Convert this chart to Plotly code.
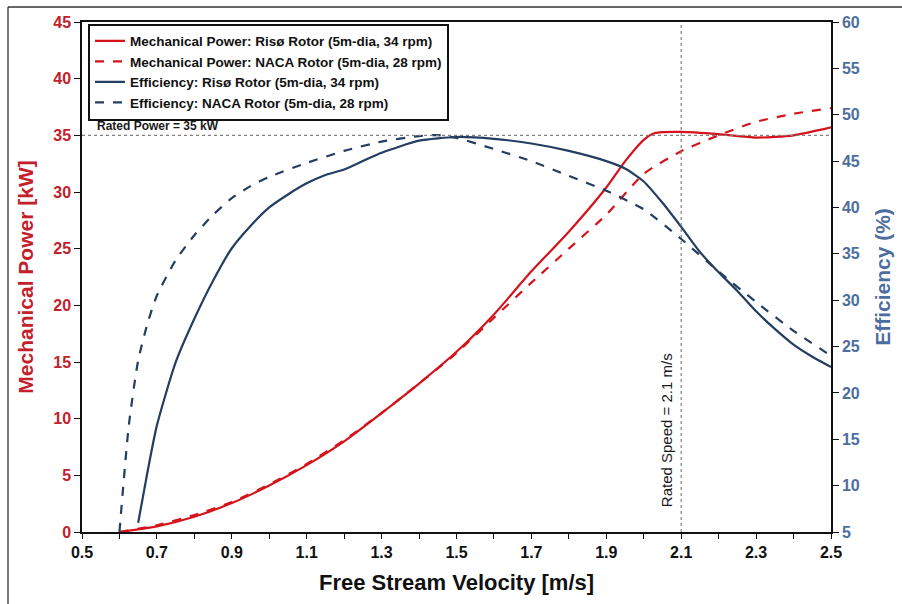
import plotly.graph_objects as go

# ---------------- data ----------------
v_riso_p = [0.60, 0.70, 0.80, 0.90, 1.00, 1.10, 1.20, 1.30, 1.40, 1.50, 1.60, 1.70,
            1.80, 1.90, 1.95, 2.00, 2.03, 2.10, 2.20, 2.30, 2.40, 2.50]
p_riso = [0.0, 0.5, 1.35, 2.55, 4.1, 5.9, 8.0, 10.5, 13.1, 15.9, 19.2, 23.0,
          26.5, 30.4, 32.7, 34.6, 35.2, 35.3, 35.1, 34.8, 35.0, 35.7]

v_naca_p = [0.60, 0.70, 0.80, 0.90, 1.00, 1.10, 1.20, 1.30, 1.40, 1.50, 1.60, 1.70,
            1.80, 1.90, 2.00, 2.10, 2.20, 2.30, 2.40, 2.50]
p_naca = [0.0, 0.6, 1.5, 2.65, 4.2, 6.0, 8.1, 10.5, 13.1, 15.8, 18.9, 22.0,
          25.0, 28.0, 31.6, 33.6, 35.0, 36.2, 36.9, 37.4]

v_riso_e = [0.65, 0.675, 0.70, 0.75, 0.80, 0.85, 0.90, 0.95, 1.00, 1.05, 1.10, 1.15,
            1.20, 1.25, 1.30, 1.40, 1.50, 1.60, 1.70, 1.80, 1.90, 1.95, 2.00, 2.05,
            2.10, 2.15, 2.20, 2.25, 2.30, 2.35, 2.40, 2.45, 2.50]
e_riso = [6.0, 11.5, 16.5, 23.3, 28.0, 32.1, 35.6, 38.0, 40.0, 41.4, 42.6, 43.5,
          44.1, 45.0, 45.9, 47.2, 47.6, 47.4, 46.9, 46.1, 45.0, 44.2, 42.8, 40.5,
          37.9, 35.2, 33.0, 31.0, 28.8, 26.9, 25.2, 23.9, 22.8]

v_naca_e = [0.60, 0.625, 0.65, 0.675, 0.70, 0.75, 0.80, 0.85, 0.90, 0.95, 1.00, 1.10,
            1.20, 1.30, 1.40, 1.45, 1.50, 1.60, 1.70, 1.80, 1.90, 2.00, 2.10, 2.20,
            2.30, 2.40, 2.50]
e_naca = [5.0, 16.5, 23.5, 27.5, 30.5, 34.3, 37.0, 39.2, 41.0, 42.3, 43.3, 44.8,
          46.1, 47.1, 47.7, 47.8, 47.5, 46.3, 45.0, 43.4, 41.8, 39.8, 36.6, 33.1,
          29.8, 26.7, 24.0]

names = ["Mechanical Power: Risø Rotor (5m-dia, 34 rpm)",
         "Mechanical Power: NACA Rotor (5m-dia, 28 rpm)",
         "Efficiency: Risø Rotor (5m-dia, 34 rpm)",
         "Efficiency: NACA Rotor (5m-dia, 28 rpm)"]

x_ticks = [0.5, 0.7, 0.9, 1.1, 1.3, 1.5, 1.7, 1.9, 2.1, 2.3, 2.5]
rated_power = 35
rated_speed = 2.1

# ---------------- styling ----------------
RED = "#D4131B"
BLUE = "#233E60"
RED_TXT = "#C4202B"
BLUE_TXT = "#4C6E9E"
FONT = "Liberation Sans, Arial, sans-serif"

fig = go.Figure()
fig.add_trace(go.Scatter(x=v_riso_p, y=p_riso, name=names[0], mode="lines",
                         line=dict(color=RED, width=2.2, shape="spline", smoothing=0.6)))
fig.add_trace(go.Scatter(x=v_naca_p, y=p_naca, name=names[1], mode="lines",
                         line=dict(color=RED, width=2.2, dash="dash", shape="spline", smoothing=0.6)))
fig.add_trace(go.Scatter(x=v_riso_e, y=e_riso, name=names[2], mode="lines", yaxis="y2",
                         line=dict(color=BLUE, width=2.2, shape="spline", smoothing=0.6)))
fig.add_trace(go.Scatter(x=v_naca_e, y=e_naca, name=names[3], mode="lines", yaxis="y2",
                         line=dict(color=BLUE, width=2.2, dash="dash", shape="spline", smoothing=0.6)))

# reference lines
fig.add_shape(type="line", xref="x", yref="y", x0=0.5, x1=2.5, y0=rated_power, y1=rated_power,
              line=dict(color="#808080", width=1.2, dash="dot"))
fig.add_shape(type="line", xref="x", yref="y", x0=rated_speed, x1=rated_speed, y0=0, y1=45,
              line=dict(color="#808080", width=1.2, dash="dot"))

# outer frame (left and top)
fig.add_shape(type="line", xref="paper", yref="paper", x0=-0.0988, x1=1.1, y0=1.0294, y1=1.0294,
              line=dict(color="#333333", width=1.3))
fig.add_shape(type="line", xref="paper", yref="paper", x0=-0.0988, x1=-0.0988, y0=1.0294, y1=-0.2,
              line=dict(color="#333333", width=1.3))

fig.add_annotation(x=0.535, y=rated_power, xref="x", yref="y", text="Rated Power = 35 kW",
                   showarrow=False, xanchor="left", yanchor="bottom", yshift=0,
                   font=dict(family=FONT, size=12, color="#1a1a1a", weight="bold"))
fig.add_annotation(x=rated_speed, y=9.0, xref="x", yref="y", text="Rated Speed = 2.1 m/s",
                   showarrow=False, textangle=-90, xanchor="center", yanchor="middle", xshift=-15,
                   font=dict(family=FONT, size=15, color="#1a1a1a"))

fig.update_layout(
    width=902, height=604,
    margin=dict(l=82, r=71, t=22, b=72),
    paper_bgcolor="white", plot_bgcolor="white",
    font=dict(family=FONT),
    showlegend=True,
    legend=dict(x=0.008, y=0.997, xanchor="left", yanchor="top",
                bgcolor="white", bordercolor="#111111", borderwidth=2,
                font=dict(family=FONT, size=13.5, color="#111111", weight="bold"),
                tracegroupgap=0, itemwidth=30),
    xaxis=dict(range=[0.5, 2.5], tickvals=x_ticks, ticktext=[f"{t:.1f}" for t in x_ticks],
               showgrid=False, zeroline=False, showline=True, linecolor="#111111", linewidth=1.5,
               mirror=True, ticks="outside", ticklen=5, tickcolor="#111111",
               minor=dict(ticks="outside", dtick=0.1, tick0=0.5, ticklen=5, tickcolor="#111111"),
               tickfont=dict(family=FONT, size=16, color="#111111", weight="bold"),
               title=dict(text="Free Stream Velocity [m/s]", standoff=15,
                          font=dict(family=FONT, size=22, color="#111111", weight="bold"))),
    yaxis=dict(range=[0, 45], dtick=5, showgrid=False, zeroline=False, showline=True,
               linecolor="#111111", linewidth=1.5, ticks="outside", ticklen=6, tickcolor="#111111",
               tickfont=dict(family=FONT, size=16, color=RED_TXT, weight="bold"),
               title=dict(text="Mechanical Power [kW]", standoff=14,
                          font=dict(family=FONT, size=21, color=RED_TXT, weight="bold"))),
    yaxis2=dict(range=[5, 60], dtick=5, overlaying="y", side="right", showgrid=False,
                zeroline=False, showline=True, linecolor="#111111", linewidth=1.5,
                ticks="outside", ticklen=6, tickcolor="#111111",
                tickfont=dict(family=FONT, size=16, color=BLUE_TXT, weight="bold"),
                title=dict(text="Efficiency (%)", standoff=16,
                           font=dict(family=FONT, size=21, color=BLUE_TXT, weight="bold"))),
)

fig.write_html("out.html")
